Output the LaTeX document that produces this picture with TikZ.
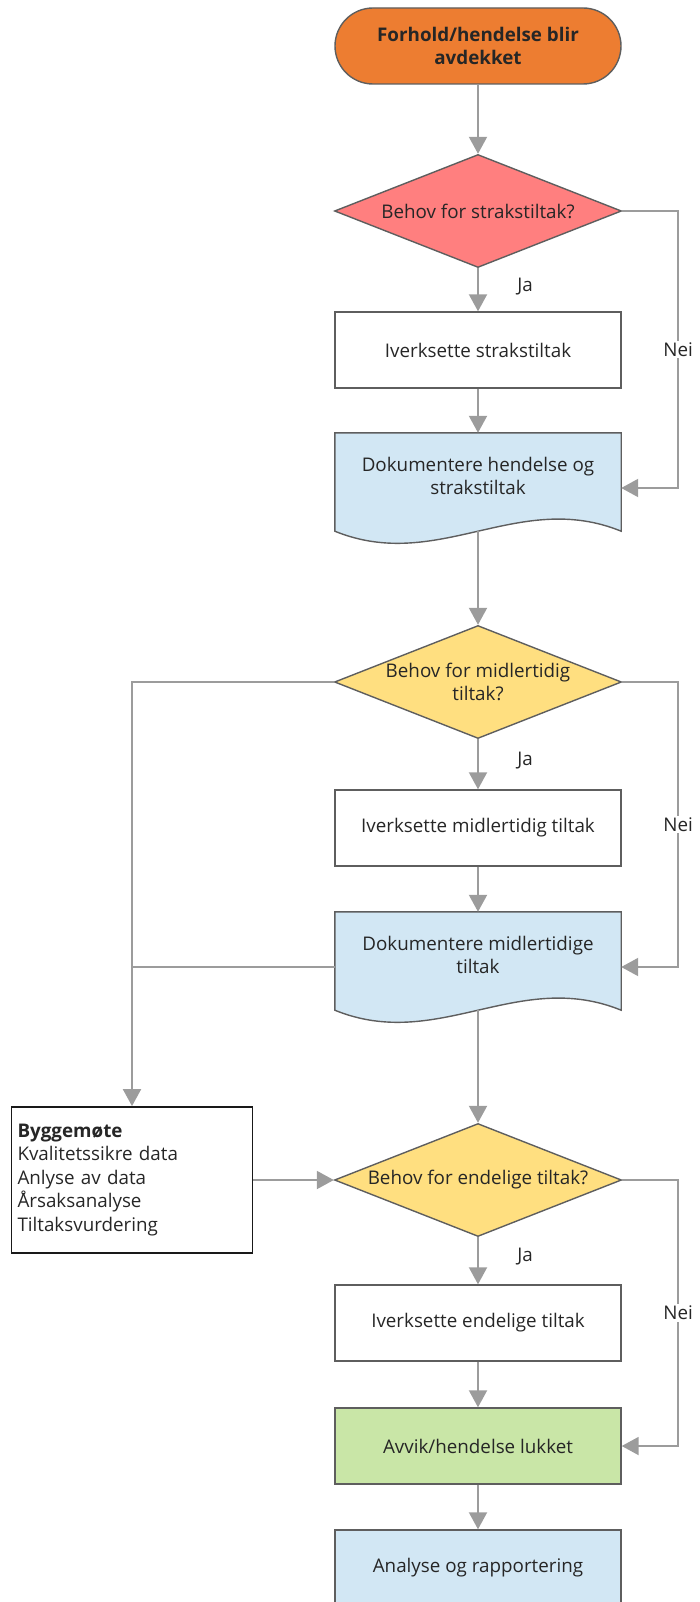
\documentclass[tikz,border=0pt]{standalone}
\usepackage{fontspec}
\setmainfont{Open Sans}
\usetikzlibrary{shapes.geometric,arrows.meta,positioning,backgrounds}
\definecolor{flowgray}{HTML}{9C9C9C}
\definecolor{edgegray}{HTML}{5E5E5E}
\definecolor{startorange}{HTML}{ED7D31}
\definecolor{urgentred}{HTML}{FF7F7F}
\definecolor{docblue}{HTML}{D2E7F4}
\definecolor{askyellow}{HTML}{FFDF80}
\definecolor{closedgreen}{HTML}{C9E6A7}
\tikzset{
  box/.style={draw=edgegray, line width=1.4pt, minimum width=286pt, minimum height=76pt,
    align=center, inner sep=4pt, text=black!85},
  startbox/.style={box, fill=startorange, rounded corners=38pt},
  askbox/.style={diamond, draw=edgegray, line width=1.4pt, fill=askyellow, aspect=2.5,
    minimum width=287pt, minimum height=113pt, inner sep=0pt, align=center, text=black!85},
  docbox/.style={minimum width=286pt, minimum height=86pt, align=center, inner sep=4pt, text=black!85},
  meetbox/.style={draw=black!90, line width=1.8pt, minimum width=241pt, minimum height=146pt,
    text width=229pt, align=left, inner sep=5pt, text=black!85},
  link/.style={draw=flowgray, line width=2pt},
  flow/.style={link, -{Triangle[width=18pt,length=17pt]}},
  jalabel/.style={right, xshift=35pt, pos=0.42, text=black!85},
  neilabel/.style={fill=white, inner sep=2pt, pos=0.25, text=black!85},
}
% document shape: flat top, wavy bottom, drawn behind the text node
\newcommand{\docwave}[2]{%
  \begin{scope}[on background layer]
    \draw[draw=edgegray, line width=1.4pt, fill=#2]
      (#1.north west) -- (#1.north east) -- ([yshift=-12pt]#1.south east)
      .. controls ([xshift=40pt,yshift=30pt]#1.south) and ([xshift=-40pt,yshift=-54pt]#1.south)
      .. ([yshift=-12pt]#1.south west) -- cycle;
  \end{scope}}

\begin{document}
\begin{tikzpicture}[x=1pt, y=-1pt, on grid, font=\fontsize{18.8}{23.5}\selectfont]
  \path[use as bounding box, clip] (0,0) rectangle (700,1602);

  \node[startbox] (start) at (478,46) {\textbf{Forhold/hendelse blir}\\\textbf{avdekket}};
  \node[askbox, fill=urgentred] (ask1) [below=165pt of start] {Behov for strakstiltak?};
  \node[box] (act1) [below=139pt of ask1] {Iverksette strakstiltak};
  \node[docbox] (doc1) [below=126pt of act1] {Dokumentere hendelse og\\strakstiltak};
  \node[askbox] (ask2) [below=206pt of doc1] {Behov for midlertidig\\tiltak?};
  \node[box] (act2) [below=146pt of ask2] {Iverksette midlertidig tiltak};
  \node[docbox] (doc2) [below=127pt of act2] {Dokumentere midlertidige\\tiltak};
  \node[askbox] (ask3) [below=225pt of doc2] {Behov for endelige tiltak?};
  \node[box] (act3) [below=143pt of ask3] {Iverksette endelige tiltak};
  \node[box, fill=closedgreen] (closed) [below=123pt of act3] {Avvik/hendelse lukket};
  \node[box, fill=docblue] (report) [below=122pt of closed] {Analyse og rapportering};
  \node[meetbox] (meet) [left=346pt of ask3] {\textbf{Byggemøte}\\Kvalitetssikre data\\Anlyse av data\\Årsaksanalyse\\Tiltaksvurdering};

  \docwave{doc1}{docblue}
  \docwave{doc2}{docblue}

  \coordinate (doc1in) at ([yshift=-12pt]doc1.east);
  \coordinate (doc1out) at ([yshift=-12pt]doc1.south);
  \coordinate (doc2in) at ([yshift=-12pt]doc2.east);
  \coordinate (doc2out) at ([yshift=-12pt]doc2.south);
  \coordinate (doc2left) at ([yshift=-12pt]doc2.west);

  \draw[flow] (start) -- (ask1);
  \draw[flow] (ask1) -- node[jalabel] {Ja} (act1);
  \draw[flow] (act1) -- (doc1);
  \draw[flow] (ask1.east) -- ++(56pt,0) |- node[neilabel] {Nei} (doc1in);
  \draw[flow] (doc1out) -- (ask2);
  \draw[flow] (ask2) -- node[jalabel] {Ja} (act2);
  \draw[flow] (act2) -- (doc2);
  \draw[flow] (ask2.east) -- ++(56pt,0) |- node[neilabel] {Nei} (doc2in);
  \draw[flow] (ask2.west) -| (meet.north);
  \draw[link] (doc2left) -- (doc2left -| meet.north);
  \draw[flow] (doc2out) -- (ask3);
  \draw[flow] (meet) -- (ask3);
  \draw[flow] (ask3) -- node[jalabel] {Ja} (act3);
  \draw[flow] (ask3.east) -- ++(56pt,0) |- node[neilabel] {Nei} (closed.east);
  \draw[flow] (act3) -- (closed);
  \draw[flow] (closed) -- (report);
\end{tikzpicture}
\end{document}
